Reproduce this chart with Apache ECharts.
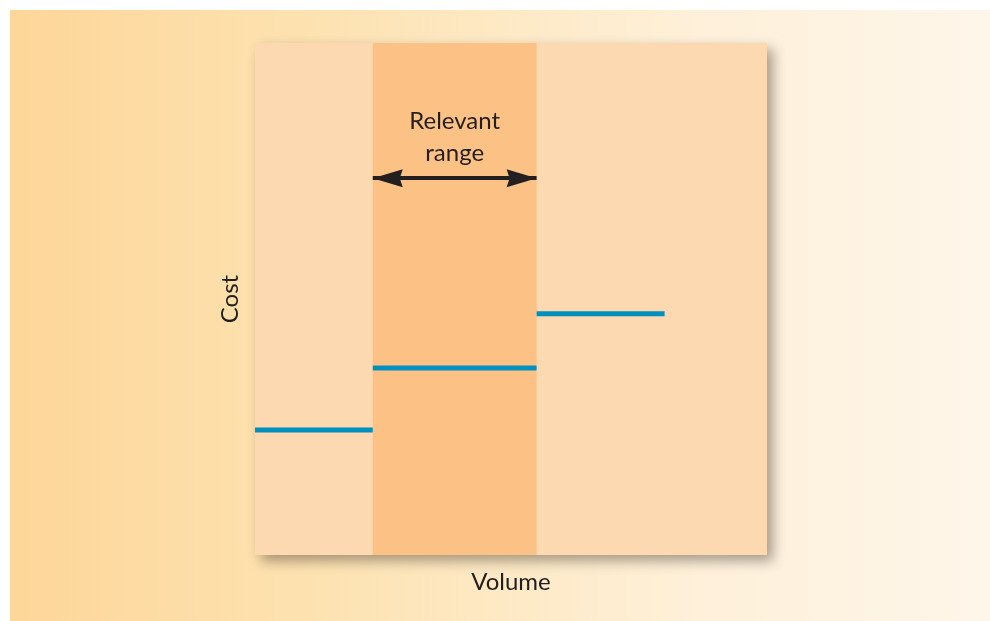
<!DOCTYPE html>
<html>
<head>
<meta charset="utf-8">
<title>Relevant range</title>
<script src="https://cdn.jsdelivr.net/npm/echarts@6/dist/echarts.min.js"></script>
<style>
  html, body { margin: 0; padding: 0; background: #ffffff; }
  #main { width: 990px; height: 621px; }
</style>
</head>
<body>
<div id="main"></div>
<script>
// volume runs 0..100, cost runs 0..100 (no ticks shown)
var stepStarts = [0, 23, 55];
var stepEnds = [23, 55, 80];
var stepCosts = [24.4, 36.5, 47.1];
var rangeBand = [23, 55];
var arrowCost = 73.6;
var bandLabel = 'Relevant\nrange';

var lineData = [];
for (var i = 0; i < stepCosts.length; i++) {
  lineData.push([stepStarts[i], stepCosts[i]]);
  lineData.push([stepEnds[i], stepCosts[i]]);
  if (i < stepCosts.length - 1) lineData.push('-');
}

var chart = echarts.init(document.getElementById('main'), null, { renderer: 'canvas' });
var font = 'Lato, "Open Sans", sans-serif';
// arrow head, pointing up, slight notch at the back
var arrowHead = 'path://M5,0 L10,10 L5,9 L0,10 Z';

var option = {
  backgroundColor: '#ffffff',
  animation: false,
  graphic: [{
    type: 'rect',
    z: -100,
    shape: { x: 10, y: 10, width: 980, height: 611 },
    style: {
      fill: new echarts.graphic.LinearGradient(0, 0, 1, 0, [
        { offset: 0, color: '#FDD699' },
        { offset: 0.3, color: '#FDE2B0' },
        { offset: 0.7, color: '#FEF0D9' },
        { offset: 1, color: '#FEF6EA' }
      ])
    },
    silent: true
  }],
  grid: {
    left: 255,
    top: 43,
    width: 512,
    height: 512,
    show: true,
    borderWidth: 0,
    backgroundColor: '#FDD9B2',
    shadowColor: 'rgba(60,50,40,0.45)',
    shadowBlur: 12,
    shadowOffsetX: 6,
    shadowOffsetY: 6
  },
  xAxis: {
    type: 'value',
    min: 0,
    max: 100,
    name: 'Volume',
    nameLocation: 'middle',
    nameGap: 15,
    nameTextStyle: { fontFamily: font, fontSize: 24, color: '#231F20' },
    axisLine: { show: false },
    axisTick: { show: false },
    axisLabel: { show: false },
    splitLine: { show: false }
  },
  yAxis: {
    type: 'value',
    min: 0,
    max: 100,
    name: 'Cost',
    nameLocation: 'middle',
    nameGap: 13,
    nameTextStyle: { fontFamily: font, fontSize: 24, color: '#231F20' },
    axisLine: { show: false },
    axisTick: { show: false },
    axisLabel: { show: false },
    splitLine: { show: false }
  },
  series: [{
    type: 'line',
    data: lineData,
    connectNulls: false,
    showSymbol: false,
    symbol: 'none',
    lineStyle: { color: '#0090BD', width: 5, cap: 'butt' },
    z: 5,
    markArea: {
      silent: true,
      itemStyle: { color: '#FCC185' },
      label: {
        show: true,
        position: 'insideTop',
        distance: 62,
        formatter: bandLabel,
        fontFamily: font,
        fontSize: 24,
        lineHeight: 32,
        color: '#231F20',
        align: 'center'
      },
      data: [[{ xAxis: rangeBand[0] }, { xAxis: rangeBand[1] }]]
    },
    markLine: {
      silent: true,
      symbol: [arrowHead, arrowHead],
      symbolSize: [18, 30],
      symbolOffset: [[0, 15], [0, 15]],
      label: { show: false },
      lineStyle: { color: '#231F20', width: 4, type: 'solid' },
      data: [[
        { coord: [rangeBand[0], arrowCost] },
        { coord: [rangeBand[1], arrowCost] }
      ]]
    }
  }]
};

chart.setOption(option);
</script>
</body>
</html>
